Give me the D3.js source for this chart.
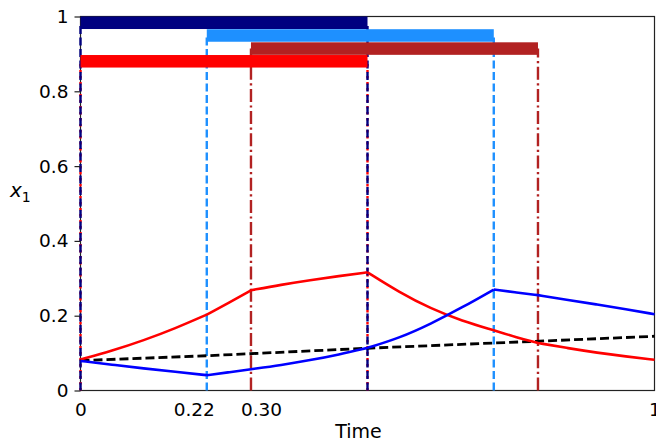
<!DOCTYPE html>
<html>
<head>
<meta charset="utf-8">
<script src="https://cdn.jsdelivr.net/npm/d3@7"></script>
<style>
  body { margin: 0; background: #fff; }
  text { font-family: "DejaVu Sans", sans-serif; }
</style>
</head>
<body>
<script>
// times where the regime changes
const breaks = [0, 0.22, 0.297, 0.5, 0.72, 0.797, 1]

const times = [0, 0.055, 0.11, 0.165, 0.22, 0.26, 0.297, 0.35, 0.4, 0.45, 0.5,
  0.555, 0.61, 0.665, 0.72, 0.76, 0.797, 0.85, 0.9, 0.95, 1]
const redVals = [0.083, 0.106, 0.134, 0.166, 0.203, 0.236, 0.268, 0.283, 0.295, 0.306, 0.316,
  0.263, 0.219, 0.186, 0.161, 0.142, 0.127, 0.113, 0.101, 0.091, 0.082]
const blueVals = [0.079, 0.069, 0.059, 0.050, 0.041, 0.049, 0.057, 0.068, 0.081, 0.096, 0.114,
  0.140, 0.178, 0.222, 0.270, 0.262, 0.255, 0.242, 0.230, 0.217, 0.204]

const refTimes = [0, 0.22, 0.5, 0.8, 1]
const refVals = [0.080, 0.093, 0.113, 0.132, 0.145]

// activity bars
const barColors = ['#000080', '#1e90ff', '#b22222', '#ff0000']
const barStarts = [0, 0.22, 0.297, 0]
const barEnds = [0.5, 0.72, 0.797, 0.5]
const barTops = [1.0, 0.966, 0.931, 0.897]
const barHeight = 0.0335

const xTicks = [0, 0.22, 0.297, 1]
const xTickLabels = ['0', '0.22', '0.30', '1']
const yTicks = [0, 0.2, 0.4, 0.6, 0.8, 1]
const yTickLabels = ['0', '0.2', '0.4', '0.6', '0.8', '1']

const width = 656
const height = 445
const margin = {top: 16.5, bottom: 54.5, left: 80.5, right: 1.5}
// the two close labels are nudged apart
const xLabelShift = [0, -13, 10, 0]

const svg = d3.select('body').append('svg')
  .attr('width', width)
  .attr('height', height)

const xScale = d3.scaleLinear()
  .domain([0, 1])
  .range([margin.left, width - margin.right])

const yScale = d3.scaleLinear()
  .domain([0, 1])
  .range([height - margin.bottom, margin.top])

// frame under the marks
svg.append('rect')
  .attr('x', xScale(0)).attr('y', yScale(1))
  .attr('width', xScale(1) - xScale(0))
  .attr('height', yScale(0) - yScale(1))
  .attr('fill', 'none')
  .attr('stroke', '#222')
  .attr('stroke-width', 1.2)

const plot = svg.append('g')

const verticals = []
barStarts.forEach((s, i) => {
  const top = barTops[i] - barHeight / 2
  verticals.push({t: s, i, top})
  verticals.push({t: barEnds[i], i, top})
})
const dashes = {
  '#ff0000': '2.5,3.5',
  '#000080': '8,3.5',
  '#1e90ff': '8,3.5',
  '#b22222': '13,3.5,2.2,3.5'
}
// red first so navy lies on it
const vOrder = [3, 0, 1, 2]
vOrder.forEach(i => {
  verticals.filter(v => v.i === i).forEach(v => {
    plot.append('line')
      .attr('x1', xScale(v.t)).attr('x2', xScale(v.t))
      .attr('y1', yScale(0)).attr('y2', yScale(v.top))
      .attr('stroke', barColors[i])
      .attr('stroke-width', 2.4)
      .attr('stroke-dasharray', dashes[barColors[i]])
  })
})

// bars
plot.selectAll('rect.bar')
  .data(barColors)
  .join('rect')
  .attr('class', 'bar')
  .attr('x', (d, i) => xScale(barStarts[i]))
  .attr('y', (d, i) => yScale(barTops[i]))
  .attr('width', (d, i) => xScale(barEnds[i]) - xScale(barStarts[i]))
  .attr('height', (d, i) => yScale(barTops[i] - barHeight) - yScale(barTops[i]))
  .attr('fill', d => d)

// reference dashed line
const line = d3.line()
  .x(d => xScale(d[0]))
  .y(d => yScale(d[1]))

plot.append('path')
  .datum(refTimes.map((t, i) => [t, refVals[i]]))
  .attr('d', line)
  .attr('fill', 'none')
  .attr('stroke', 'black')
  .attr('stroke-width', 2.8)
  .attr('stroke-dasharray', '9,4')

// piecewise smooth curves, kinked at the breaks
const smooth = d3.line()
  .x(d => xScale(d[0]))
  .y(d => yScale(d[1]))
  .curve(d3.curveBasis)

function drawSeries(vals, color) {
  const pts = times.map((t, i) => [t, vals[i]])
  const segs = []
  for (let k = 0; k < breaks.length - 1; k++) {
    segs.push(pts.filter(p => p[0] >= breaks[k] - 1e-9 && p[0] <= breaks[k + 1] + 1e-9))
  }
  plot.append('path')
    .attr('d', segs.map(s => smooth(s)).join(''))
    .attr('fill', 'none')
    .attr('stroke', color)
    .attr('stroke-width', 2.6)
    .attr('stroke-linejoin', 'round')
}
drawSeries(redVals, '#ff0000')
drawSeries(blueVals, '#0000ff')

const xAxis = d3.axisBottom(xScale)
  .tickValues(xTicks)
  .tickFormat((d, i) => xTickLabels[i])
  .tickSize(0)
  .tickPadding(12)

const yAxis = d3.axisLeft(yScale)
  .tickValues(yTicks)
  .tickFormat((d, i) => yTickLabels[i])
  .tickSize(6)
  .tickPadding(6)

const xAxisGroup = svg.append('g')
  .attr('transform', `translate(0,${yScale(0)})`)
  .call(xAxis)

const yAxisGroup = svg.append('g')
  .attr('transform', `translate(${xScale(0)},0)`)
  .call(yAxis)

;[xAxisGroup, yAxisGroup].forEach(g => {
  g.select('.domain').remove()
  g.selectAll('.tick line').attr('stroke', '#222').attr('stroke-width', 1.2)
  g.selectAll('.tick text')
    .attr('fill', 'black')
    .style('font-family', '"DejaVu Sans", sans-serif')
    .style('font-size', '18.5px')
})
xAxisGroup.selectAll('.tick text')
  .attr('dx', (d, i) => xLabelShift[i])

svg.append('text')
  .attr('x', (xScale(0) + xScale(1)) / 2 - 9)
  .attr('y', 438)
  .attr('text-anchor', 'middle')
  .style('font-size', '19px')
  .text('Time')

const yLabel = svg.append('text')
  .attr('x', 10)
  .attr('y', 197)
  .style('font-size', '20px')
yLabel.append('tspan').style('font-style', 'italic').text('x')
yLabel.append('tspan').attr('dy', 5).style('font-size', '14px').text('1')
</script>
</body>
</html>
